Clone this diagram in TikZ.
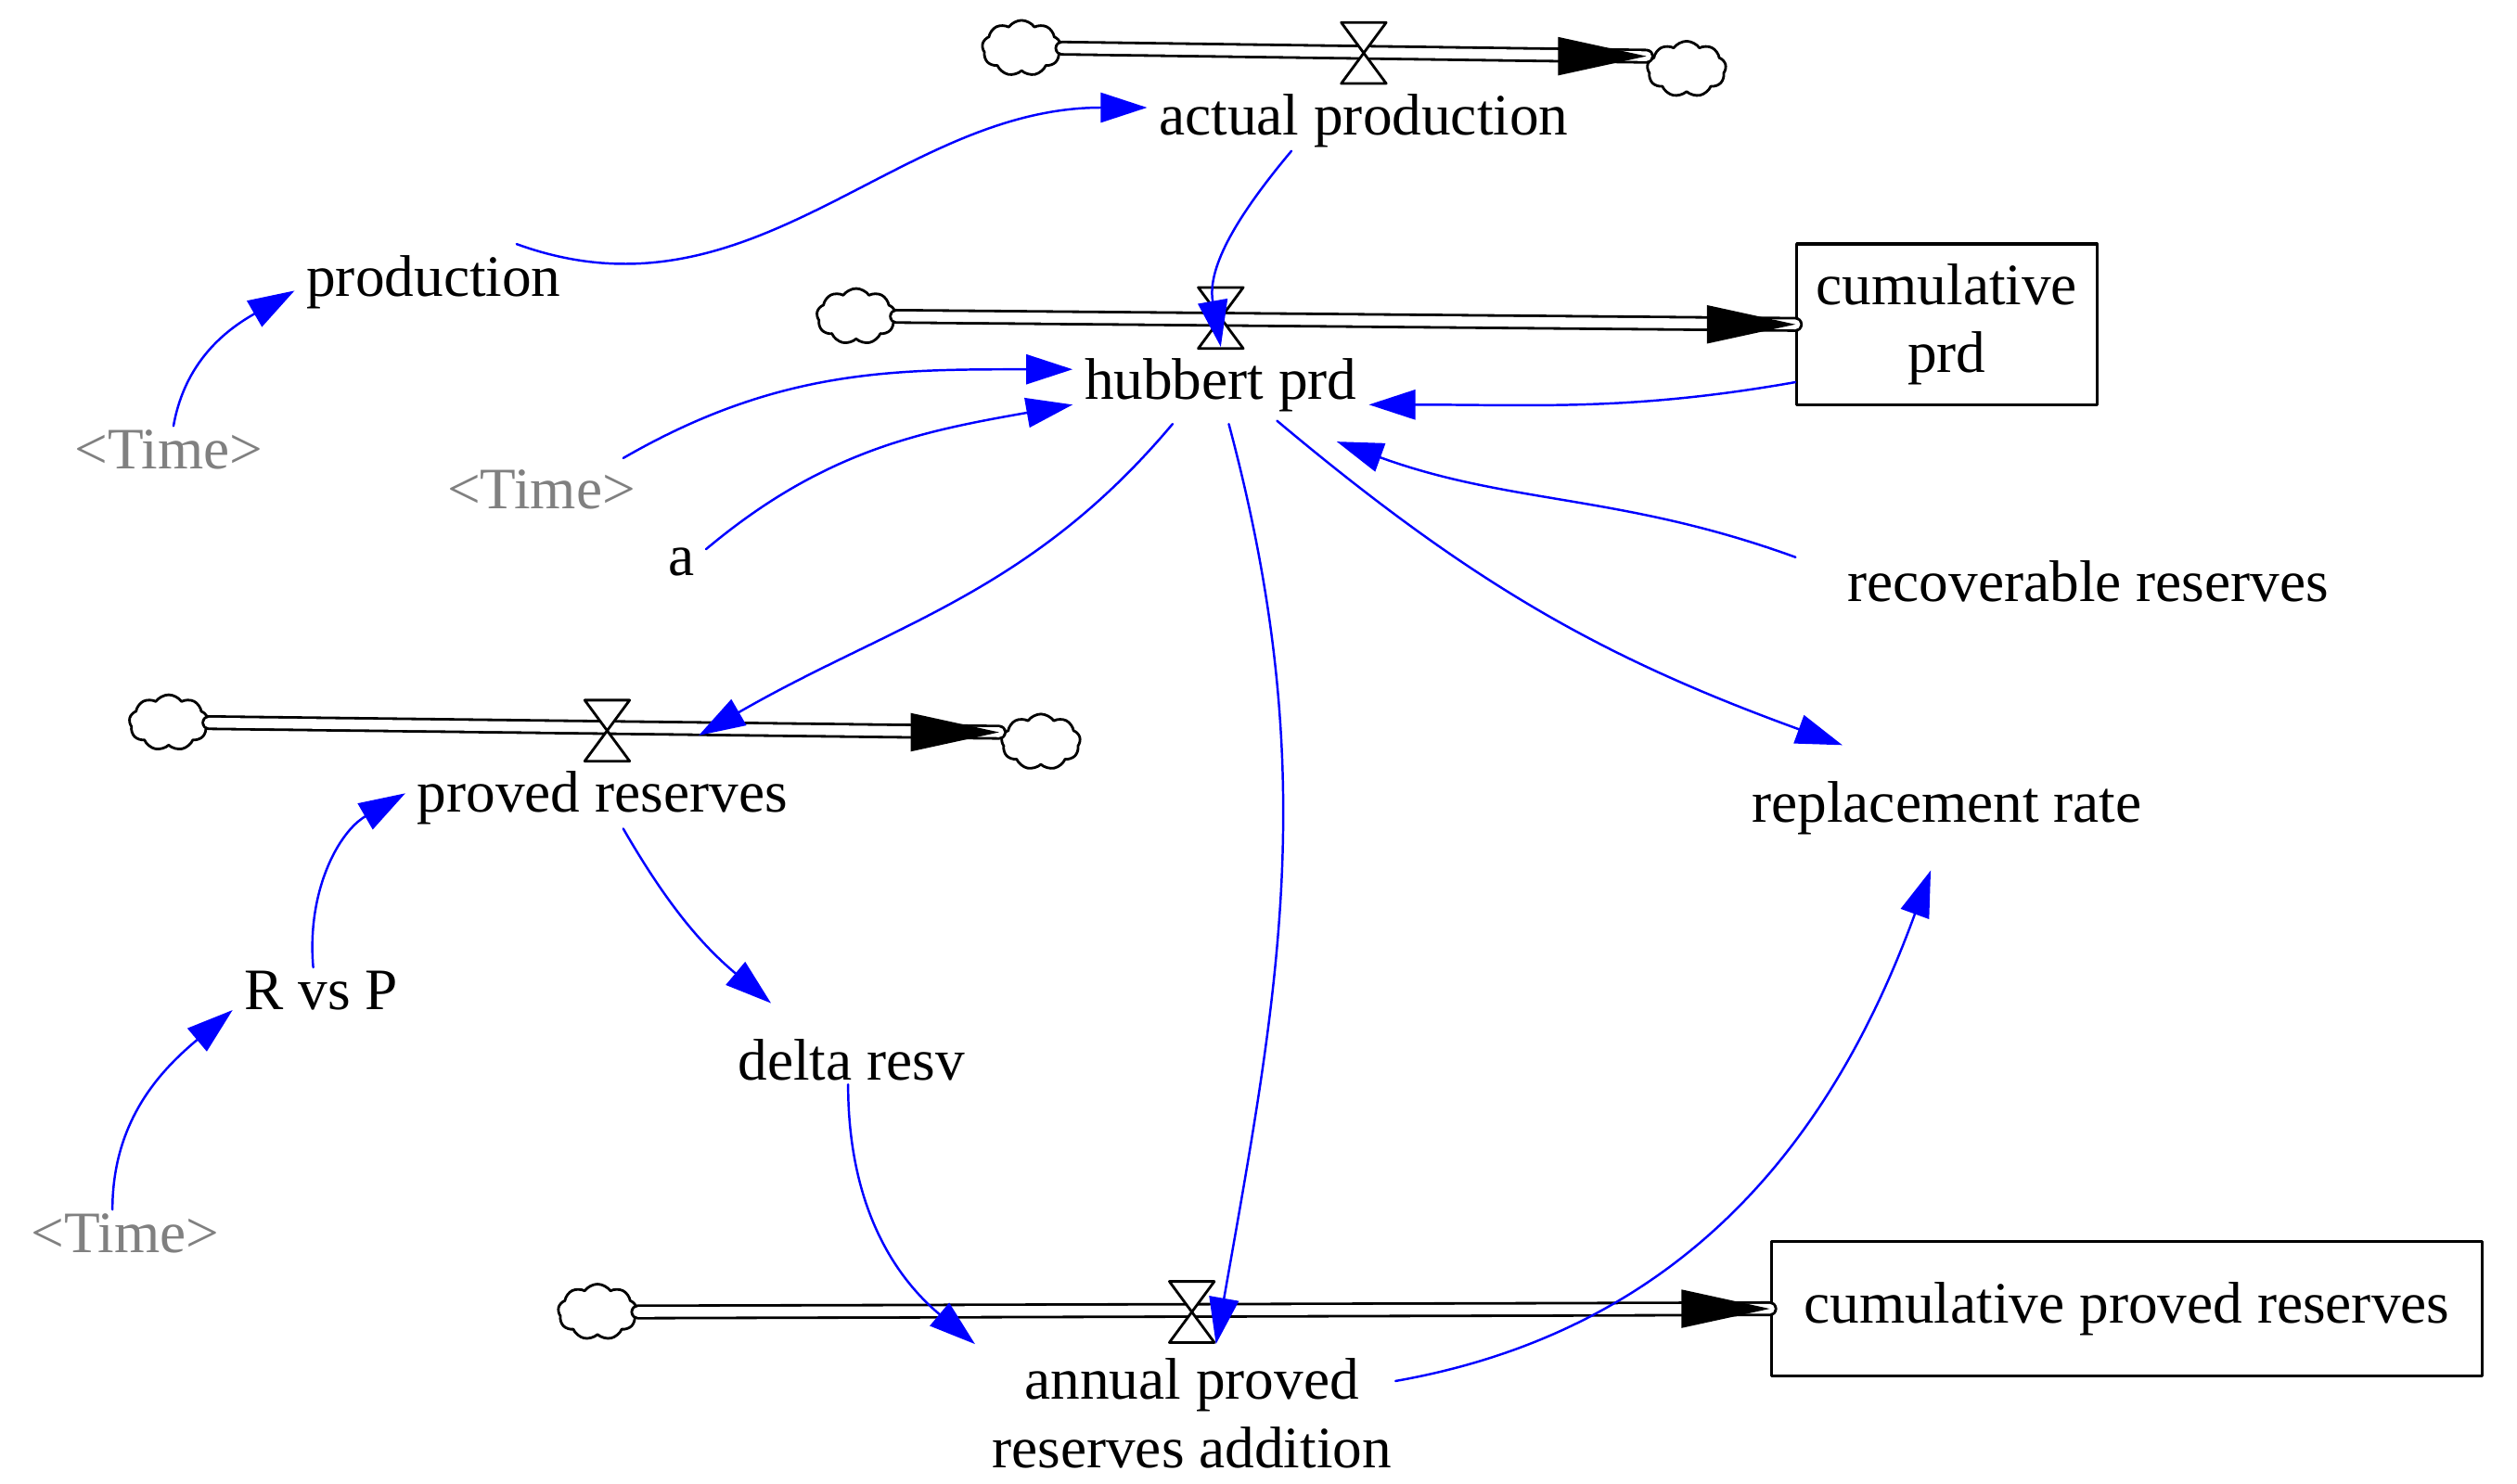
\documentclass[tikz,border=0pt]{standalone}
\usepackage{fontspec}
\setmainfont{Liberation Serif}
\usetikzlibrary{arrows.meta,shapes.symbols}
\begin{document}
\begin{tikzpicture}[line cap=round,line join=round,x=0.01731cm,y=-0.01731cm,
  every node/.style={font=\fontsize{18}{21}\selectfont},
  lab/.style={inner sep=1pt},
  tm/.style={inner sep=1pt,text=gray},
  stock/.style={draw,line width=0.9pt,inner sep=6pt,align=center},
  cld/.style={cloud,cloud puffs=9,cloud puff arc=110,aspect=1.5,draw,line width=0.8pt,
    minimum width=0.85cm,minimum height=0.6cm,inner sep=0pt,fill=white},
  pipe/.style={draw,line width=0.8pt,double distance=3pt},
  lnk/.style={blue,line width=0.7pt,-{Triangle[length=0.5cm,width=0.32cm]}}]
\useasboundingbox (0,0) rectangle (1567,924);
% valve and pipe head
\newcommand{\valve}[1]{\draw[line width=0.8pt,fill=white] ($(#1)+(-14,-19)$) -- ++(28,0) -- ++(-28,38) -- ++(28,0) -- cycle;}
\newcommand{\pipehead}[1]{\fill (#1) -- ++(-55,-12) -- ++(0,24) -- cycle;}
\usetikzlibrary{calc}

% flow 1
\node[cld] (c1a) at (636,30) {};
\node[cld] (c1b) at (1050,43) {};
\coordinate (t1) at (1025,35);
\draw[pipe] (c1a.east) -- (t1);
\pipehead{t1}
\coordinate (v1) at (849,33); \valve{v1}
\node[lab] (actual) at (849,75) {actual production};

% flow 2
\node[stock] (cumprd) at (1212,202) {cumulative\\prd};
\node[cld] (c2a) at (533,197) {};
\coordinate (t2) at (cumprd.west);
\draw[pipe] (c2a.east) -- (t2);
\pipehead{t2}
\coordinate (v2) at (760,198); \valve{v2}
\node[lab] (hub) at (760,240) {hubbert prd};

% flow 3
\node[cld] (c3a) at (105,450) {};
\node[cld] (c3b) at (648,462) {};
\coordinate (t3) at (622,456);
\draw[pipe] (c3a.east) -- (t3);
\pipehead{t3}
\coordinate (v3) at (378,455); \valve{v3}
\node[lab] (proved) at (375,497) {proved reserves};

% flow 4
\node[stock,minimum height=1.45cm,inner xsep=10pt] (cumres) at (1324,815) {cumulative proved reserves};
\node[cld] (c4a) at (372,817) {};
\coordinate (t4) at (cumres.west);
\draw[pipe] (c4a.east) -- (t4);
\pipehead{t4}
\coordinate (v4) at (742,817); \valve{v4}
\node[lab,align=center] (annual) at (742,880) {annual proved\\reserves addition};

% auxiliaries
\node[lab] (prod) at (270,176) {production};
\node[tm] (time1) at (105,280) {<Time>};
\node[tm] (time2) at (337,305) {<Time>};
\node[lab] (a) at (424,350) {a};
\node[lab] (recov) at (1300,362) {recoverable reserves};
\node[lab] (repl) at (1212,503) {replacement rate};
\node[lab] (rvsp) at (200,617) {R vs P};
\node[lab] (delta) at (530,660) {delta resv};
\node[tm] (time3) at (78,768) {<Time>};

% links
\draw[lnk] (prod.north east) ++(-30,-5) to[out=-20,in=180] ($(actual.west)+(-5,-8)$);
\draw[lnk] (actual.south) ++(-45,0) to[out=-130,in=100] ($(v2)+(0,18)$);
\draw[lnk] (cumprd.south west) ++(0,-15) to[out=190,in=0] ($(hub.east)+(5,12)$);
\draw[lnk] (time2.north east) ++(-10,-5) to[out=30,in=180] ($(hub.west)+(-5,-10)$);
\draw[lnk] (a.east) ++(5,-8) to[out=40,in=190] ($(hub.west)+(-5,12)$);
\draw[lnk] (recov.west) ++(-30,-15) to[out=160,in=-20] ($(hub.east)+(-15,35)$);
\draw[lnk] (hub.south) ++(-30,5) to[out=-130,in=30] ($(proved.north)+(60,-20)$);
\draw[lnk] (hub.south) ++(5,5) to[out=-75,in=80] ($(v4)+(15,20)$);
\draw[lnk] (hub.south) ++(35,3) to[out=-40,in=160] ($(repl.north)+(-65,-20)$);
\draw[lnk] (time1.north) ++(3,0) to[out=80,in=210] ($(prod.west)+(-5,5)$);
\draw[lnk] (rvsp.north) ++(-5,0) to[out=95,in=210] ($(proved.west)+(-5,-3)$);
\draw[lnk] (time3.north) ++(-8,0) to[out=90,in=220] ($(rvsp.west)+(-5,12)$);
\draw[lnk] (proved.south) ++(13,0) to[out=-60,in=140] ($(delta.north)+(-50,-20)$);
\draw[lnk] (delta.south) ++(-2,0) to[out=-90,in=140] ($(v4)+(-135,20)$);
\draw[lnk] (annual.east) ++(0,-20) to[out=10,in=-110] ($(repl.south)+(-10,20)$);
\end{tikzpicture}
\end{document}
